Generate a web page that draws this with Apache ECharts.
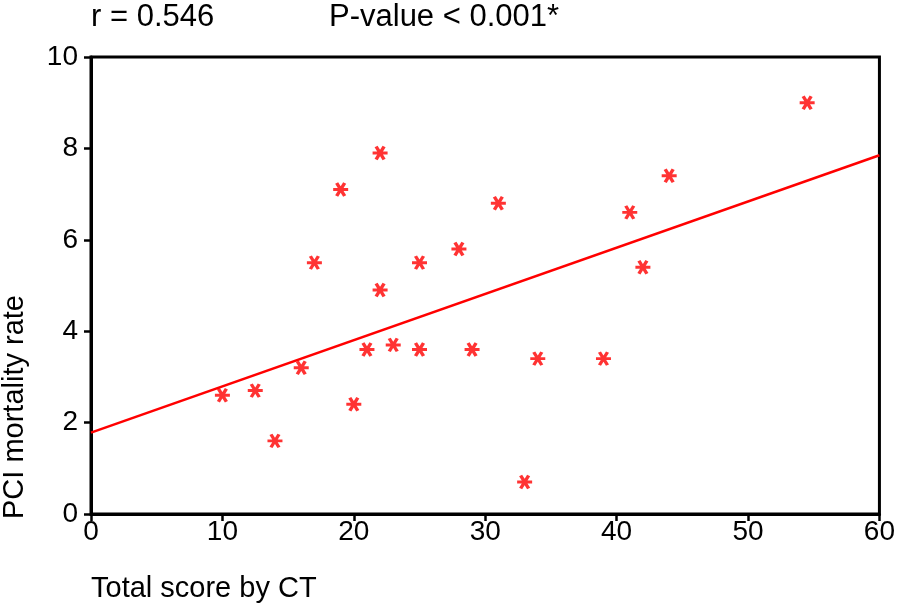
<!DOCTYPE html>
<html>
<head>
<meta charset="utf-8">
<script src="https://cdn.jsdelivr.net/npm/echarts@6/dist/echarts.min.js"></script>
<style>
  html, body { margin: 0; padding: 0; background: #fff; }
  #chart { width: 898px; height: 608px; }
</style>
</head>
<body>
<div id="chart"></div>
<script>
// Total score by CT vs PCI mortality rate
const ctScore = [10, 12.5, 14, 16, 17, 19, 20, 21, 22, 22, 23, 25, 25, 28, 29, 31, 33, 34, 39, 41, 42, 44, 54.5]
const mortality = [2.6, 2.7, 1.6, 3.2, 5.5, 7.1, 2.4, 3.6, 7.9, 4.9, 3.7, 5.5, 3.6, 5.8, 3.6, 6.8, 0.7, 3.4, 3.4, 6.6, 5.4, 7.4, 9.0]
// fitted line end points
const fitX = [0, 60]
const fitY = [1.78, 7.85]
const xTicks = [0, 10, 20, 30, 40, 50, 60]
const yTicks = [0, 2, 4, 6, 8, 10]

const font = 'Liberation Sans, Arial, sans-serif'
const red = '#ff0000'
const star = 'path://M0,5L12,5M2.8,0L9.2,10M9.2,0L2.8,10'

const chart = echarts.init(document.getElementById('chart'))
chart.setOption({
  animation: false,
  backgroundColor: '#fff',
  textStyle: { fontFamily: font },
  grid: {
    left: 91, top: 57, right: 15, bottom: 94,
    show: true, borderColor: '#000', borderWidth: 3,
  },
  graphic: [
    { type: 'text', x: 91, y: 17, style: { text: 'r = 0.546', font: '31px ' + font, fill: '#000', verticalAlign: 'middle' } },
    { type: 'text', x: 329, y: 17, style: { text: 'P-value < 0.001*', font: '31px ' + font, fill: '#000', verticalAlign: 'middle' } },
    { type: 'text', x: 91, y: 589, style: { text: 'Total score by CT', font: '29px ' + font, fill: '#000', verticalAlign: 'middle' } },
    {
      type: 'text', x: 15, y: 519, rotation: Math.PI / 2,
      style: { text: 'PCI mortality rate', font: '29px ' + font, fill: '#000', align: 'left', verticalAlign: 'middle' },
    },
  ],
  xAxis: {
    type: 'value', min: xTicks[0], max: xTicks[xTicks.length - 1], interval: 10,
    axisLine: { lineStyle: { color: '#000', width: 3 } },
    axisTick: { inside: false, length: 7, lineStyle: { color: '#000', width: 2.5 } },
    axisLabel: { color: '#000', fontSize: 28, margin: 4 },
    splitLine: { show: false },
  },
  yAxis: {
    type: 'value', min: yTicks[0], max: yTicks[yTicks.length - 1], interval: 2,
    axisLine: { show: true, lineStyle: { color: '#000', width: 3 } },
    axisTick: { show: true, inside: false, length: 7, lineStyle: { color: '#000', width: 2.5 } },
    axisLabel: { color: '#000', fontSize: 28, margin: 13 },
    splitLine: { show: false },
  },
  series: [
    {
      type: 'line',
      data: fitX.map((x, i) => [x, fitY[i]]),
      symbol: 'none',
      lineStyle: { color: red, width: 2.5 },
      z: 2,
    },
    {
      type: 'scatter',
      data: ctScore.map((x, i) => [x, mortality[i]]),
      symbol: star,
      symbolSize: [15, 13],
      itemStyle: { color: red, borderColor: red, borderWidth: 3.2 },
      z: 3,
    },
  ],
})
</script>
</body>
</html>
